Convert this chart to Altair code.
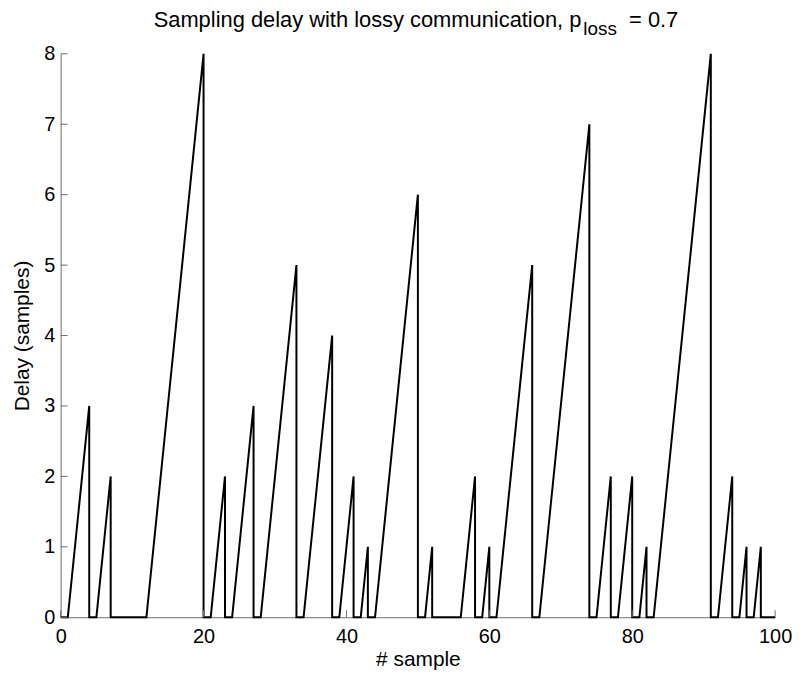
import altair as alt
import pandas as pd

# polyline vertices of the delay curve (sample index, delay in samples)
sample_x = [0, 1, 4, 4, 5, 7, 7, 12, 20, 20, 21, 23, 23, 24, 27, 27, 28, 33, 33, 34,
            38, 38, 39, 41, 41, 42, 43, 43, 44, 50, 50, 51, 52, 52, 56, 58, 58, 59, 60, 60,
            61, 66, 66, 67, 74, 74, 75, 77, 77, 78, 80, 80, 81, 82, 82, 83, 91, 91, 92, 94,
            94, 95, 96, 96, 97, 98, 98, 100]
delay_y = [0, 0, 3, 0, 0, 2, 0, 0, 8, 0, 0, 2, 0, 0, 3, 0, 0, 5, 0, 0,
           4, 0, 0, 2, 0, 0, 1, 0, 0, 6, 0, 0, 1, 0, 0, 2, 0, 0, 1, 0,
           0, 5, 0, 0, 7, 0, 0, 2, 0, 0, 2, 0, 0, 1, 0, 0, 8, 0, 0, 2,
           0, 0, 1, 0, 0, 1, 0, 0]
x_ticks = [0, 20, 40, 60, 80, 100]
y_ticks = [0, 1, 2, 3, 4, 5, 6, 7, 8]
title_main = ["Sampling delay with lossy communication, p"]
title_sub = ["loss"]
title_tail = ["= 0.7"]

W, H = 719, 567
FONT = "Liberation Sans"
GRAY = "#6e6e6e"

df = pd.DataFrame({"sample": sample_x, "delay": delay_y, "order": list(range(len(sample_x)))})

xscale = alt.Scale(domain=[0, 100], nice=False, zero=False)
yscale = alt.Scale(domain=[0, 8], nice=False)

xaxis = alt.Axis(values=x_ticks, tickSize=0, labelPadding=9, labelFontSize=20,
                 labelFont=FONT, labelColor="black", labelFlush=False,
                 domainColor=GRAY, title="# sample", titleFontSize=21,
                 titleFont=FONT, titleFontWeight="normal", titleColor="black",
                 titleY=49, titleBaseline="alphabetic")
yaxis = alt.Axis(values=y_ticks, tickSize=0, labelPadding=6, labelFontSize=20,
                 labelFont=FONT, labelColor="black", labelFlush=False,
                 domainColor=GRAY, title="Delay (samples)", titleFontSize=21,
                 titleFont=FONT, titleFontWeight="normal", titleColor="black",
                 titleX=-32, titleBaseline="alphabetic")

line = alt.Chart(df).mark_line(color="black", strokeWidth=2).encode(
    x=alt.X("sample:Q", scale=xscale, axis=xaxis),
    y=alt.Y("delay:Q", scale=yscale, axis=yaxis),
    order="order:Q",
)

xt = alt.Chart(pd.DataFrame({"sample": x_ticks})).mark_rule(color=GRAY, strokeWidth=1).encode(
    x=alt.X("sample:Q", scale=xscale, axis=xaxis),
    y=alt.value(H - 7), y2=alt.value(H),
)
yt = alt.Chart(pd.DataFrame({"delay": y_ticks})).mark_rule(color=GRAY, strokeWidth=1).encode(
    y=alt.Y("delay:Q", scale=yscale, axis=yaxis),
    x=alt.value(0), x2=alt.value(7),
)

t1 = alt.Chart(pd.DataFrame({"t": title_main})).mark_text(
    font=FONT, fontSize=22, align="right", baseline="alphabetic", color="black"
).encode(text="t:N", x=alt.value(524), y=alt.value(-27))
t2 = alt.Chart(pd.DataFrame({"t": title_sub})).mark_text(
    font=FONT, fontSize=19, align="left", baseline="alphabetic", color="black"
).encode(text="t:N", x=alt.value(526), y=alt.value(-19))
t3 = alt.Chart(pd.DataFrame({"t": title_tail})).mark_text(
    font=FONT, fontSize=22, align="left", baseline="alphabetic", color="black"
).encode(text="t:N", x=alt.value(572), y=alt.value(-27))

chart = alt.layer(line, xt, yt, t1, t2, t3).properties(
    width=W, height=H,
    padding={"left": 53, "top": 44, "right": 18, "bottom": 52},
    autosize=alt.AutoSizeParams(type="none"),
).configure_view(stroke=None).configure_axis(grid=False)

chart.save("out.html", embed_options={"renderer": "svg", "actions": False})
